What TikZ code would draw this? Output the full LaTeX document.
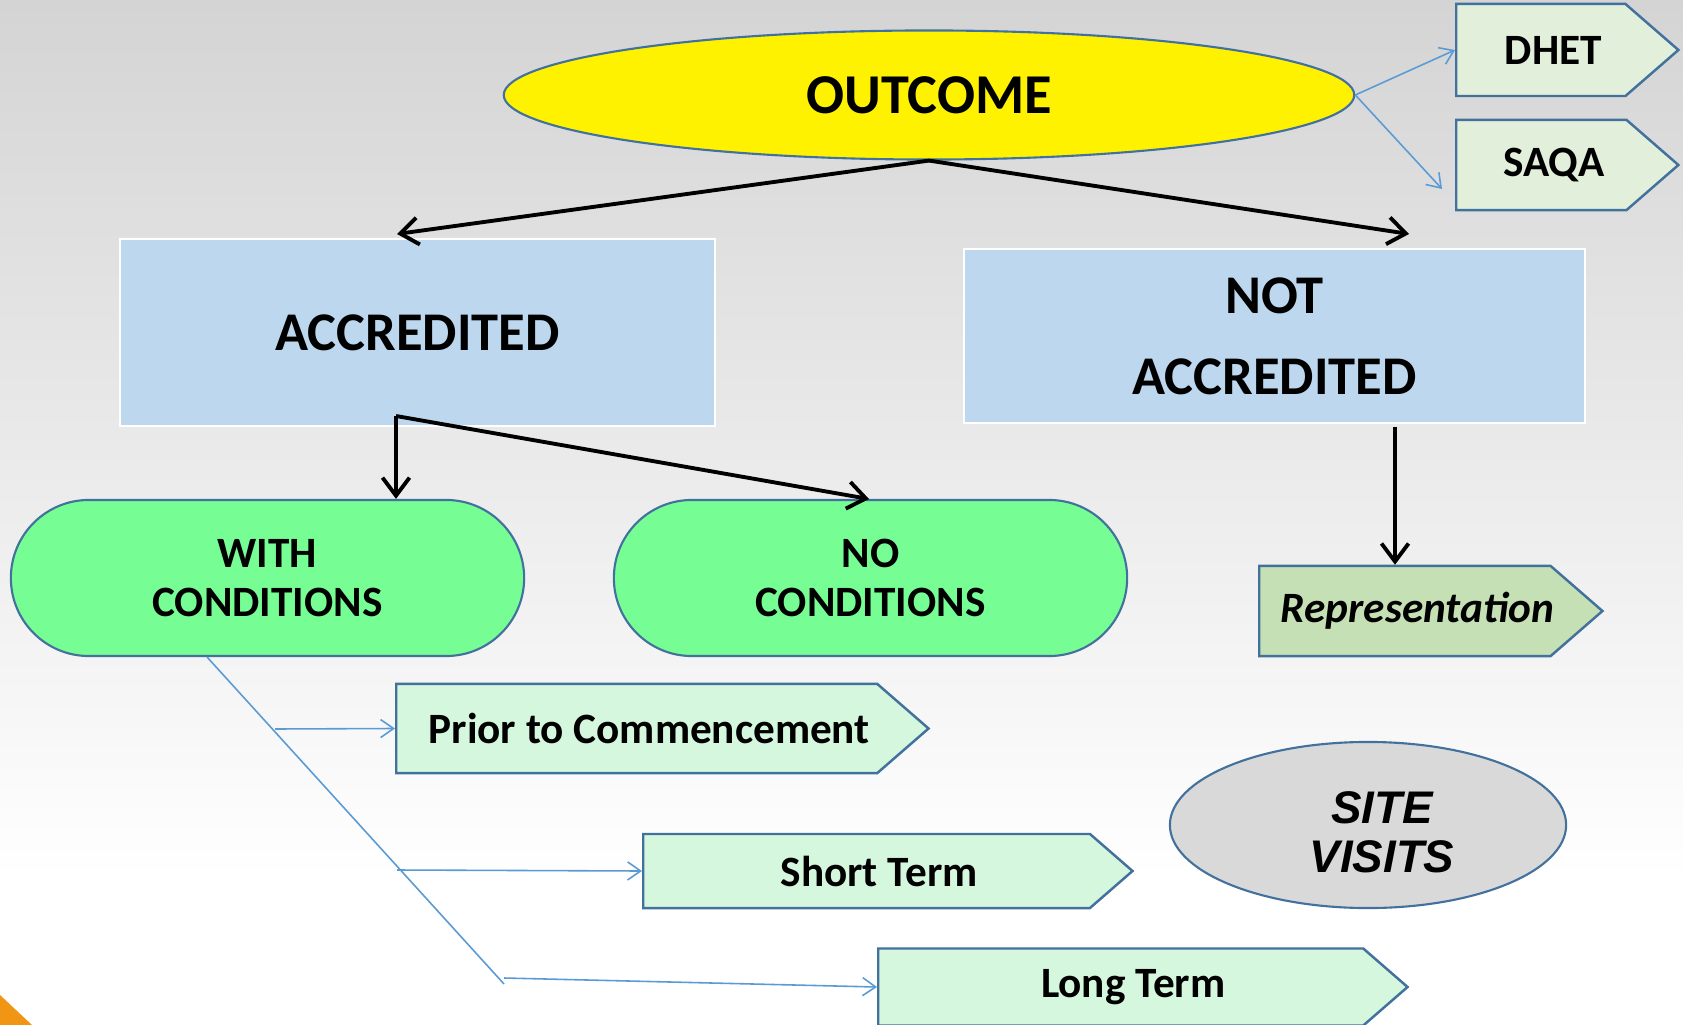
\documentclass[tikz,border=0pt]{standalone}
\usepackage{fontspec}
\setmainfont{Carlito}
\newfontfamily\arialfont{Liberation Sans}
\usepackage{tikz}
\usetikzlibrary{arrows.meta}
\usetikzlibrary{positioning,shapes.geometric,shapes.symbols}
\definecolor{EdgeBlue}{RGB}{65,113,156}
\definecolor{LinkBlue}{RGB}{91,155,213}
\definecolor{AccBlue}{RGB}{189,215,238}
\definecolor{PillGreen}{RGB}{118,253,147}
\definecolor{TagMint}{RGB}{213,247,222}
\definecolor{TagPale}{RGB}{226,239,218}
\definecolor{TagSage}{RGB}{197,224,180}
\definecolor{SiteGray}{RGB}{217,217,217}
\definecolor{TopGray}{RGB}{212,212,212}
\definecolor{CornerOrange}{RGB}{240,150,20}

\begin{document}
\begin{tikzpicture}[
x=0.01cm, y=-0.01cm,
BoxBlue/.style={draw=white,line width=0.6pt,fill=AccBlue,inner sep=0pt,align=center,
  font=\fontsize{15.5}{17}\selectfont\bfseries},
Pill/.style={draw=EdgeBlue,line width=0.6pt,fill=PillGreen,rounded corners=0.78cm,
  minimum width=5.13cm,minimum height=1.56cm,align=center,
  font=\fontsize{12.3}{14}\selectfont\bfseries},
Tag/.style={signal,signal to=east,signal pointer angle=82,draw=EdgeBlue,line width=0.7pt,
  fill=TagMint,anchor=west,inner sep=0pt,font=\fontsize{12.3}{14}\selectfont\bfseries,
  execute at begin node=\hspace*{#1}},
Tag/.default=0.25cm,
MainArrow/.style={-{Straight Barb[length=1.8mm,width=2.7mm]},line width=1.1pt,black},
ThinLink/.style={LinkBlue,line width=0.45pt},
ThinArrow/.style={ThinLink,-{Straight Barb[length=1.3mm,width=1.8mm]}}
]
\useasboundingbox (0,0) rectangle (1683,1025);
% background
\fill[white] (0,0) rectangle (1683,1025);
\shade[top color=TopGray,bottom color=white] (0,0) rectangle (1683,880);
\fill[CornerOrange] (0,995) -- (32,1025) -- (0,1025) -- cycle;

\node[ellipse,draw=EdgeBlue,line width=0.6pt,fill=yellow,minimum width=8.5cm,minimum height=1.29cm,
  inner sep=0pt,font=\fontsize{16}{18}\selectfont\bfseries] (outcome) at (929,95) {OUTCOME};

\node[Tag,fill=TagPale,minimum width=2.22cm,minimum height=0.92cm] (dhet) at (1455,50) {DHET};
\node[Tag,fill=TagPale,minimum width=2.22cm,minimum height=0.90cm] (saqa) at (1455,165) {SAQA};

\node[BoxBlue,minimum width=5.95cm,minimum height=1.87cm] (acc) at (417.5,332.5) {ACCREDITED};
\node[BoxBlue,minimum width=6.21cm,minimum height=1.74cm] (notacc) at (1274.5,336) {NOT\\[6pt]ACCREDITED};

\node[Pill] (withc) at (267.5,578) {WITH\\CONDITIONS};
\node[Pill] (noc) at (870.5,578) {NO\\CONDITIONS};

\node[Tag=0.12cm,fill=TagSage,minimum width=3.43cm,minimum height=0.90cm,
  execute at end node=\hspace*{-0.13cm},
  font=\fontsize{12.3}{14}\selectfont\bfseries\itshape] (repr) at (1258,611) {Representation};

\node[Tag,minimum width=5.32cm,minimum height=0.89cm] (prior) at (395,728.5) {Prior to Commencement};
\node[Tag,minimum width=4.89cm,minimum height=0.74cm] (short) at (642,871) {Short Term};
\node[Tag,minimum width=5.29cm,minimum height=0.77cm] (long) at (877,987) {Long Term};

\node[ellipse,draw=EdgeBlue,line width=0.6pt,fill=SiteGray,minimum width=3.96cm,minimum height=1.66cm,
  inner sep=0pt] (site) at (1368,825) {};
\node[align=center,inner sep=0pt,font=\arialfont\fontsize{13}{14}\selectfont\bfseries\itshape]
  (sitetext) at ([shift={(14,7)}]site.center) {SITE\\VISITS};

\coordinate (accIn) at (397,234);
\coordinate (notaccIn) at (1409,234);
\coordinate (accOut) at (396,416);
\coordinate (notaccOut) at (1395,427);
\coordinate (saqaIn) at (1442,189);
\coordinate (diagTop) at (207,657);
\coordinate (diagBot) at (504,984);

\draw[MainArrow] (outcome.south) -- (accIn);
\draw[MainArrow] (outcome.south) -- (notaccIn);
\draw[MainArrow] (accOut) -- (accOut |- withc.north);
\draw[MainArrow] (accOut) -- (869,499);
\draw[MainArrow] (notaccOut) -- (notaccOut |- repr.north);

\draw[ThinArrow] (outcome.east) -- (dhet.west);
\draw[ThinArrow] (outcome.east) -- (saqaIn);

\draw[ThinLink] (diagTop) -- (diagBot);
\draw[ThinArrow] (275,729) -- (prior.west);
\draw[ThinArrow] (397,870) -- (short.west);
\draw[ThinArrow] (diagBot) ++(0,-6) -- (long.west);
\end{tikzpicture}
\end{document}
